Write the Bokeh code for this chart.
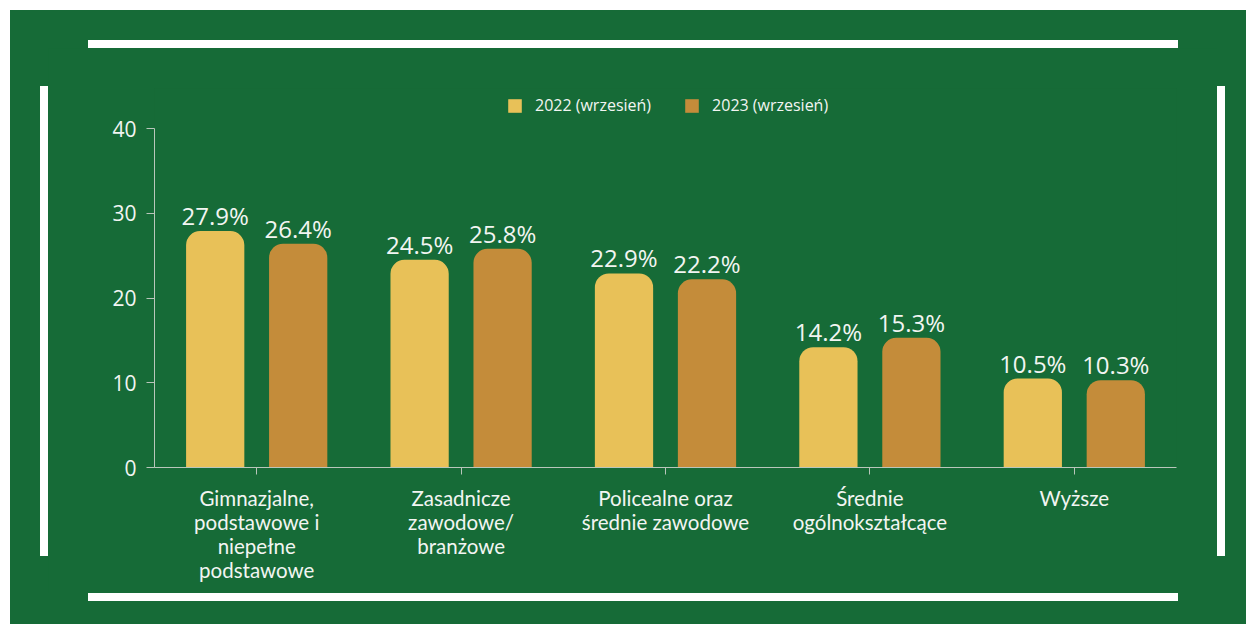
from bokeh.plotting import figure
from bokeh.models import (ColumnDataSource, Legend, LegendItem, Div,
                          FactorRange, Range1d, FixedTicker)
from bokeh.layouts import column, row
from bokeh.transform import dodge
from bokeh.core.properties import value
from bokeh.embed import file_html
from bokeh.resources import INLINE

# ---- data ----
categories = [
    "Gimnazjalne,\npodstawowe i\nniepełne\npodstawowe",
    "Zasadnicze\nzawodowe/\nbranżowe",
    "Policealne oraz\nśrednie zawodowe",
    "Średnie\nogólnokształcące",
    "Wyższe",
]
values_2022 = [27.9, 24.5, 22.9, 14.2, 10.5]
values_2023 = [26.4, 25.8, 22.2, 15.3, 10.3]
series_labels = ["2022 (wrzesień)", "2023 (wrzesień)"]
y_ticks = [0, 10, 20, 30, 40]

GREEN = "#166b37"
YELLOW = "#e8c158"
BROWN = "#c48c3a"
TEXT = "#f2f5f2"
AXIS = "#b9c6bb"

src = ColumnDataSource(dict(
    cat=categories,
    v22=values_2022,
    v23=values_2023,
    l22=[f"{v:.1f}%" for v in values_2022],
    l23=[f"{v:.1f}%" for v in values_2023],
))

FW, FH = 1169, 545
p = figure(
    x_range=FactorRange(factors=categories, range_padding=0),
    y_range=Range1d(0, 44.72),
    width=FW, height=FH,
    min_border_left=106, min_border_right=41,
    min_border_top=40, min_border_bottom=126,
    toolbar_location=None, output_backend="svg",
)
p.background_fill_color = GREEN
p.border_fill_color = GREEN
p.outline_line_color = None
p.xgrid.grid_line_color = None
p.ygrid.grid_line_color = None

off, bw = 0.203, 0.285
r1 = p.vbar(x=dodge("cat", -off, range=p.x_range), top="v22", width=bw,
            source=src, fill_color=YELLOW, line_color=None,
            border_radius=(14, 14, 0, 0))
r2 = p.vbar(x=dodge("cat", off, range=p.x_range), top="v23", width=bw,
            source=src, fill_color=BROWN, line_color=None,
            border_radius=(14, 14, 0, 0))

for dx, col in ((-off, "22"), (off, "23")):
    p.text(x=dodge("cat", dx, range=p.x_range), y="v" + col, text="l" + col,
           source=src, text_align="center", text_baseline="bottom",
           y_offset=1, text_font_size="24px", text_color=TEXT,
           text_font=value("Open Sans"))

# axes
yax = p.yaxis[0]
yax.ticker = FixedTicker(ticks=y_ticks)
yax.bounds = (0, 40)
yax.axis_line_color = AXIS
yax.major_tick_line_color = AXIS
yax.major_tick_in = 0
yax.major_tick_out = 8
yax.minor_tick_line_color = None
yax.major_label_text_color = TEXT
yax.major_label_text_font = "Open Sans"
yax.major_label_text_font_size = "21px"
yax.major_label_standoff = 10

xax = p.xaxis[0]
xax.axis_line_color = AXIS
xax.major_tick_line_color = AXIS
xax.major_tick_in = 0
xax.major_tick_out = 7
xax.major_label_text_color = TEXT
xax.major_label_text_font = "Lato"
xax.major_label_text_font_size = "20.5px"
xax.major_label_text_line_height = 1.01
xax.major_label_standoff = 11
xax.major_label_orientation = "horizontal"

legend = Legend(
    items=[LegendItem(label=series_labels[0], renderers=[r1]),
           LegendItem(label=series_labels[1], renderers=[r2])],
    orientation="horizontal", location=(352, 351),
    background_fill_alpha=0, border_line_color=None,
    padding=0, margin=0, spacing=32, label_standoff=12,
    glyph_width=17, glyph_height=17, label_height=18,
    label_text_color=TEXT, label_text_font="Open Sans",
    label_text_font_size="16px",
)
p.add_layout(legend)

# decorative white frame bars around the chart
def bar(w, h, margin):
    return Div(text="", width=w, height=h, margin=margin,
               styles={"background-color": "white"})

top_bar = bar(1090, 8, (30, 0, 0, 78))
left_bar = bar(8, 470, (38, 0, 0, 30))
right_bar = bar(8, 470, (38, 0, 0, 0))
bottom_bar = bar(1090, 8, (0, 0, 0, 78))

layout = column(
    top_bar,
    row(left_bar, p, right_bar, spacing=0),
    bottom_bar,
    width=1236, height=614, spacing=0, margin=(10, 0, 0, 10),
    styles={"background-color": GREEN},
)

open("out.html", "w").write(file_html(layout, INLINE))
